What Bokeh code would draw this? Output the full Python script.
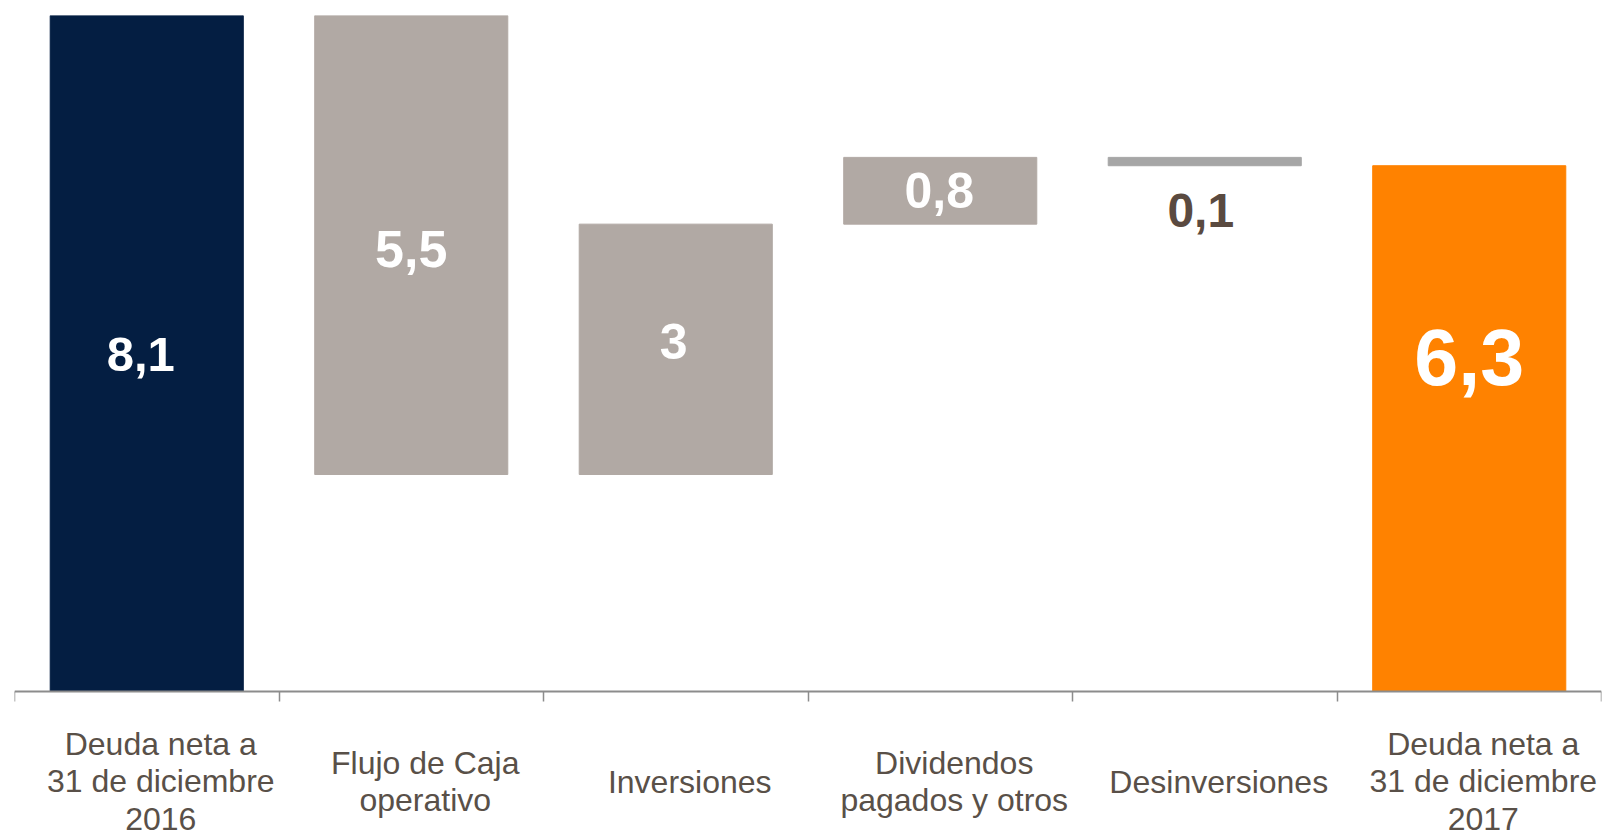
from bokeh.plotting import figure
from bokeh.models import Range1d, LinearAxis, FixedTicker, ColumnDataSource
from bokeh.core.properties import value
from bokeh.embed import file_html
from bokeh.resources import INLINE

# ---- data ----
categories = [
    "Deuda neta a\n31 de diciembre\n2016",
    "Flujo de Caja\noperativo",
    "Inversiones",
    "Dividendos\npagados y otros",
    "Desinversiones",
    "Deuda neta a\n31 de diciembre\n2017",
]
start_debt = 8.1
changes = [-5.5, 3.0, 0.8, -0.1]
end_debt = 6.3

# ---- waterfall geometry from data ----
xs = list(range(1, len(categories) + 1))
bottoms = [0.0]
tops = [start_debt]
running = start_debt
for c in changes:
    new = round(running + c, 6)
    bottoms.append(min(running, new))
    tops.append(max(running, new))
    running = new
bottoms.append(0.0)
tops.append(end_debt)

amounts = [start_debt] + [abs(c) for c in changes] + [end_debt]
labels = [f"{a:g}".replace(".", ",") for a in amounts]

# ---- styles ----
bar_colors = ["#041E42", "#B1A9A4", "#B1A9A4", "#B1A9A4", "#A6A6A6", "#FF8200"]
label_colors = ["#FFFFFF", "#FFFFFF", "#FFFFFF", "#FFFFFF", "#5A4A40", "#FFFFFF"]
label_sizes = ["49px", "52px", "50px", "50px", "48px", "79px"]
label_dx = [-6, 0, -2, -1, -4, 0]        # pixel nudges
label_dy = [1, 4, -8, 0, 45, -71]
label_anchor = []
for i, (b, t) in enumerate(zip(bottoms, tops)):
    label_anchor.append(b if i == 4 else (b + t) / 2)

W, H = 1608, 834
top_pad = 15
baseline_px = 691          # figure y of the value 0
px_per_unit = (baseline_px - top_pad) / start_debt
y_end = start_debt
y_start = start_debt - (H - top_pad) / px_per_unit

p = figure(width=W, height=H, output_backend="svg", toolbar_location=None,
           x_range=Range1d(0.5, len(categories) + 0.5),
           y_range=Range1d(y_start, y_end),
           x_axis_location=None, y_axis_location=None,
           min_border=0, min_border_left=14, min_border_right=7,
           min_border_top=top_pad, min_border_bottom=0)
p.outline_line_color = None
p.grid.visible = False
p.background_fill_color = "white"
p.border_fill_color = "white"

src = ColumnDataSource(dict(x=xs, bottom=bottoms, top=tops, color=bar_colors))
p.vbar(x="x", bottom="bottom", top="top", width=0.73, color="color", source=src)

lsrc = ColumnDataSource(dict(x=xs, y=label_anchor, text=labels, color=label_colors,
                             fs=label_sizes, dx=label_dx, dy=label_dy))
p.text(x="x", y="y", text="text", text_color="color", text_font_size="fs",
       x_offset="dx", y_offset="dy", text_align="center", text_baseline="middle",
       text_font=value("Liberation Sans"), text_font_style="bold", source=lsrc)

# category axis at zero
ax = LinearAxis(fixed_location=0)
ax.ticker = FixedTicker(ticks=[i + 0.5 for i in range(0, len(categories) + 1)])
ax.minor_tick_line_color = None
ax.major_tick_in = 0
ax.major_tick_out = 10
ax.major_tick_line_color = "#8C8C8C"
ax.major_tick_line_width = 1.5
ax.axis_line_color = "#8C8C8C"
ax.axis_line_width = 2
ax.major_label_text_font_size = "0px"
ax.major_label_text_color = None
p.add_layout(ax, "below")

label_y = -90 / px_per_unit
csrc = ColumnDataSource(dict(x=xs, y=[label_y] * len(xs), text=categories))
p.text(x="x", y="y", text="text", x_offset=14, text_align="center",
       text_baseline="middle", text_font=value("Liberation Sans"),
       text_font_size=value("32px"), text_line_height=1.03,
       text_color="#595048", source=csrc)

open("out.html", "w").write(file_html(p, INLINE))
